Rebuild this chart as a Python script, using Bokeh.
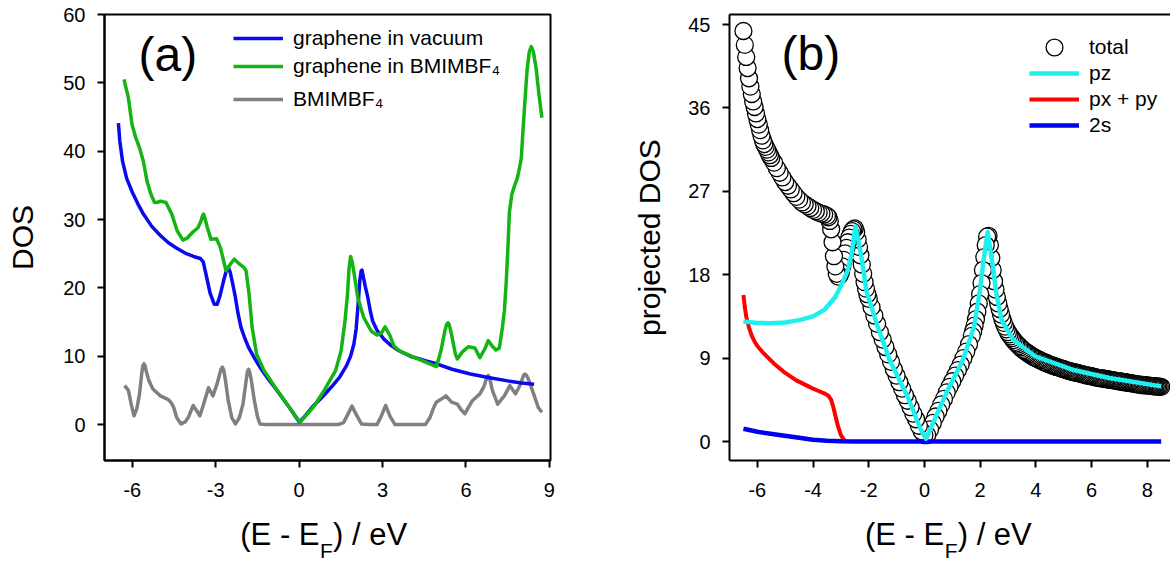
from bokeh.plotting import figure
from bokeh.models import (Range1d, FixedTicker, Legend, LegendItem, Label,
                          LinearAxis, ColumnDataSource)
from bokeh.layouts import row, column
from bokeh.embed import file_html
from bokeh.resources import INLINE
from bokeh.core.properties import value

FONT = "Liberation Sans"

# ---------------- data : panel (a) ----------------
a_vac_x = [-6.5, -6.45, -6.35, -6.2, -6.0, -5.8, -5.6, -5.3, -5.0, -4.7, -4.4, -4.1, -3.8,
           -3.55, -3.45, -3.35, -3.2, -3.05, -2.95, -2.85, -2.72, -2.6, -2.55, -2.48, -2.4,
           -2.3, -2.2, -2.09, -1.95, -1.82, -1.6, -1.41, -1.1, -0.87, -0.6, -0.33, -0.15,
           0.0, 0.2, 0.48, 0.8, 1.16, 1.45, 1.7, 1.85, 1.97, 2.05, 2.12, 2.18, 2.23, 2.26,
           2.3, 2.38, 2.47, 2.56, 2.64, 2.8, 3.05, 3.3, 3.59, 4.0, 4.5, 4.94, 5.5, 6.16,
           6.8, 7.5, 8.0, 8.45]
a_vac_y = [44.1, 41.5, 38.5, 36.0, 34.0, 32.3, 30.8, 29.0, 27.7, 26.6, 25.8, 25.1, 24.6,
           24.3, 23.8, 22.0, 19.2, 17.6, 17.6, 18.8, 21.0, 22.8, 23.0, 22.3, 20.8,
           18.8, 16.3, 14.2, 12.6, 11.3, 9.7, 8.4, 6.6, 5.4, 3.9, 2.4, 1.3,
           0.4, 1.2, 2.6, 3.9, 5.5, 6.9, 8.6, 10.0, 11.8, 14.0, 17.5, 21.0, 22.5, 22.6,
           21.8, 20.2, 18.6, 16.6, 15.2, 13.8, 12.5, 11.6, 10.8, 10.0, 9.4, 8.9, 8.1, 7.4,
           6.9, 6.4, 6.1, 5.9]

a_il_x = [-6.30, -6.14, -6.01, -5.87, -5.74, -5.60, -5.47, -5.33, -5.20, -5.10, -4.99, -4.79,
          -4.58, -4.38, -4.18, -4.02, -3.84, -3.64, -3.53, -3.48, -3.44, -3.40, -3.30, -3.17,
          -2.97, -2.83, -2.63, -2.47, -2.33, -2.15, -1.99, -1.91, -1.80, -1.69, -1.53, -1.26,
          -0.85, -0.44, 0.03, 0.50, 0.90, 1.31, 1.51, 1.65, 1.74, 1.79, 1.85, 1.91, 1.98,
          2.11, 2.32, 2.59, 2.80, 2.96, 3.09, 3.27, 3.41, 3.61, 4.16, 4.70, 4.94, 5.10, 5.24,
          5.30, 5.35, 5.40, 5.48, 5.62, 5.69, 5.86, 6.09, 6.32, 6.50, 6.68, 6.80, 6.94, 7.08,
          7.20, 7.31, 7.38, 7.45, 7.51, 7.56, 7.65, 7.75, 7.85, 7.92, 7.99, 8.05, 8.12, 8.20,
          8.28, 8.35, 8.42, 8.52, 8.62, 8.73]
a_il_y = [50.5, 47.8, 43.9, 41.9, 40.5, 38.5, 35.6, 33.7, 32.5, 32.5, 32.7, 32.5,
          30.8, 28.3, 27.0, 27.3, 28.1, 28.8, 29.8, 30.5, 30.8, 30.4, 28.8, 27.1,
          27.2, 25.9, 22.5, 23.5, 24.2, 23.5, 23.0, 22.5, 19.1, 14.2, 10.3, 7.9,
          5.4, 3.0, 0.35, 2.5, 5.0, 7.9, 10.8, 15.2, 19.1, 22.6, 24.6, 23.8, 22.0,
          18.6, 15.7, 13.7, 13.1, 13.4, 14.3, 13.0, 11.5, 10.8, 9.8, 8.9, 8.5, 10.8, 13.7,
          14.6, 14.9, 14.6, 13.2, 10.3, 9.6, 10.6, 11.4, 11.2, 9.8, 11.1, 12.3, 11.5, 10.9,
          11.2, 14.2, 16.6, 21.0, 26.0, 31.0, 33.7, 35.0, 36.1, 37.5, 39.0, 43.0, 47.3, 52.0,
          54.6, 55.3, 54.6, 52.2, 48.5, 44.9]

a_ion_x = [-6.28, -6.14, -6.04, -5.94, -5.84, -5.74, -5.66, -5.62, -5.58, -5.54, -5.5, -5.4,
           -5.26, -4.99, -4.72, -4.6, -4.51, -4.4, -4.25, -4.1, -3.98, -3.81, -3.68, -3.57,
           -3.45, -3.26, -3.1, -2.95, -2.81, -2.76, -2.71, -2.65, -2.55, -2.42, -2.29, -2.15,
           -2.02, -1.92, -1.86, -1.82, -1.78, -1.72, -1.61, -1.5, -1.41, -1.2, 1.4, 1.6,
           1.75, 1.9, 2.05, 2.24, 2.5, 2.8, 2.95, 3.11, 3.27, 3.45, 4.54, 4.7, 4.85, 4.94,
           5.1, 5.28, 5.48, 5.69, 5.82, 5.96, 6.1, 6.23, 6.5, 6.65, 6.76, 6.8, 6.85, 6.95,
           7.14, 7.38, 7.58, 7.78, 7.95, 8.07, 8.12, 8.18, 8.25, 8.39, 8.6, 8.73]
a_ion_y = [5.7, 5.0, 3.0, 1.3, 2.3, 4.5, 7.5, 8.6, 8.9, 8.6, 7.8, 6.4,
           5.2, 4.2, 3.7, 3.2, 2.5, 1.0, 0.1, 0.4, 1.1, 2.8, 2.0, 1.3,
           2.8, 5.4, 4.2, 6.0, 8.1, 8.4, 8.0, 6.5, 3.5, 1.0, 0.1, 1.0,
           3.0, 6.0, 7.8, 8.1, 7.7, 6.5, 3.5, 1.2, 0.1, 0.0, 0.0, 0.3,
           1.5, 2.7, 1.5, 0.1, 0.0, 0.0, 1.2, 2.8, 1.2, 0.0, 0.0, 1.0, 2.6, 3.3,
           3.7, 4.2, 3.3, 3.0, 2.2, 1.6, 2.6, 3.5, 4.5, 5.6, 7.0, 7.2, 6.8, 5.0,
           3.0, 4.2, 5.7, 4.5, 5.8, 7.2, 7.4, 7.2, 6.6, 5.0, 2.5, 1.8]

a_xticks = [-6, -3, 0, 3, 6, 9]
a_yticks = [0, 10, 20, 30, 40, 50, 60]
a_labels = ["graphene in vacuum", "graphene in BMIMBF\u2084", "BMIMBF\u2084"]

# ---------------- data : panel (b) ----------------
b_total_x = [-6.50, -6.45, -6.40, -6.35, -6.30, -6.25, -6.20, -6.15, -6.10, -6.05, -6.00,
             -5.95, -5.90, -5.85, -5.80, -5.75, -5.70, -5.65, -5.60, -5.55, -5.50,
             -5.4, -5.3, -5.2, -5.1, -5.0, -4.9, -4.8, -4.7, -4.6, -4.5, -4.4, -4.3, -4.2,
             -4.1, -4.0, -3.9, -3.8, -3.7, -3.6, -3.5,
             -3.45, -3.40, -3.35, -3.30, -3.25, -3.20, -3.15, -3.10, -3.05, -3.00, -2.95,
             -2.90, -2.85, -2.80, -2.75, -2.70, -2.65, -2.60, -2.55, -2.50, -2.45, -2.40,
             -2.35, -2.30, -2.25, -2.20, -2.15, -2.10, -2.05, -2.00,
             -1.9, -1.8, -1.7, -1.6, -1.5, -1.4, -1.3, -1.2, -1.1, -1.0, -0.9, -0.8, -0.7,
             -0.6, -0.5, -0.4, -0.3, -0.2, -0.1, 0.0, 0.1, 0.2, 0.3, 0.4, 0.5, 0.6, 0.7,
             0.8, 0.9, 1.0, 1.1, 1.2, 1.3, 1.4, 1.5, 1.6, 1.7,
             1.75, 1.80, 1.85, 1.90, 1.95, 2.00, 2.05, 2.10, 2.15, 2.20, 2.25, 2.30, 2.35,
             2.40, 2.45, 2.50, 2.55, 2.60, 2.65, 2.70, 2.75, 2.80, 2.85, 2.90,
             2.95, 3.00, 3.05, 3.10, 3.15, 3.20, 3.25, 3.30, 3.35, 3.40, 3.45, 3.50, 3.55,
             3.60, 3.65, 3.70, 3.75, 3.80, 3.85, 3.90, 3.95, 4.00, 4.05, 4.10, 4.15, 4.20,
             4.25, 4.30, 4.35, 4.40, 4.45, 4.50, 4.55, 4.60, 4.65, 4.70, 4.75, 4.80, 4.85,
             4.90, 4.95, 5.00, 5.05, 5.10, 5.15, 5.20, 5.25, 5.30, 5.35, 5.40, 5.45, 5.50,
             5.55, 5.60, 5.65, 5.70, 5.75, 5.80, 5.85, 5.90, 5.95, 6.00, 6.05, 6.10, 6.15,
             6.20, 6.25, 6.30, 6.35, 6.40, 6.45, 6.50, 6.55, 6.60, 6.65, 6.70, 6.75, 6.80,
             6.85, 6.90, 6.95, 7.00, 7.05, 7.10, 7.15, 7.20, 7.25, 7.30, 7.35, 7.40, 7.45,
             7.50, 7.55, 7.60, 7.65, 7.70, 7.75, 7.80, 7.85, 7.90, 7.95, 8.00, 8.05, 8.10,
             8.15, 8.20, 8.25, 8.30, 8.35, 8.40, 8.45, 8.50]
b_total_y = [44.3, 42.8, 41.5, 40.3, 39.2, 38.3, 37.5, 36.7, 36.1, 35.4, 34.8,
             34.2, 33.6, 33.0, 32.5, 32.1, 31.8, 31.5, 31.2, 30.9, 30.6,
             30.1, 29.5, 29.0, 28.5, 28.0, 27.6, 27.2, 26.8, 26.4, 26.1, 25.8, 25.6, 25.4,
             25.2, 25.0, 24.85, 24.7, 24.6, 24.5, 24.35,
             24.2, 23.8, 22.9, 21.5, 20.0, 18.9, 18.1, 17.8, 17.9, 18.3, 18.9,
             19.6, 20.3, 20.9, 21.5, 22.0, 22.4, 22.7, 22.9, 23.0, 22.6, 21.8,
             21.0, 20.1, 19.1, 18.1, 17.2, 16.5, 15.9, 15.4,
             14.5, 13.6, 12.7, 11.8, 11.0, 10.2, 9.4, 8.6, 7.8, 7.1, 6.4, 5.7, 5.0,
             4.4, 3.7, 3.0, 2.4, 1.7, 1.1, 0.7, 0.7, 1.3, 2.0, 2.7, 3.3, 4.0, 4.6,
             5.3, 5.9, 6.5, 7.1, 7.7, 8.3, 9.0, 9.7, 10.5, 11.4,
             11.9, 12.5, 13.2, 14.0, 14.9, 15.9, 17.1, 18.5, 19.9, 21.2, 22.1, 22.2, 21.2,
             19.8, 18.5, 17.3, 16.4, 15.6, 14.9, 14.3, 13.7, 13.2, 12.8, 12.4,
             12.1, 11.8, 11.55, 11.35, 11.15, 10.95, 10.75, 10.6, 10.45, 10.3, 10.15, 10.0, 9.87,
             9.75, 9.65, 9.55, 9.45, 9.35, 9.25, 9.15, 9.07, 9.0, 8.92, 8.85, 8.77, 8.7,
             8.62, 8.55, 8.5, 8.45, 8.37, 8.3, 8.25, 8.2, 8.15, 8.1, 8.05, 8.0, 7.95,
             7.9, 7.85, 7.8, 7.75, 7.7, 7.65, 7.6, 7.57, 7.55, 7.5, 7.45, 7.42, 7.4,
             7.35, 7.3, 7.27, 7.25, 7.2, 7.15, 7.12, 7.1, 7.07, 7.05, 7.0, 6.95, 6.92,
             6.9, 6.87, 6.85, 6.82, 6.8, 6.77, 6.75, 6.72, 6.7, 6.67, 6.65, 6.62, 6.6,
             6.57, 6.55, 6.52, 6.5, 6.47, 6.45, 6.42, 6.4, 6.37, 6.35, 6.32, 6.3, 6.27,
             6.25, 6.22, 6.2, 6.17, 6.15, 6.12, 6.1, 6.1, 6.08, 6.06, 6.05, 6.02, 6.0,
             6.0, 5.98, 5.96, 5.95, 5.94, 5.93, 5.92, 5.9]

b_pz_x = [-6.5, -6.0, -5.5, -5.0, -4.5, -4.0, -3.6, -3.2, -2.95, -2.75, -2.61, -2.48,
          -2.38, -2.27, -2.08, -1.68, -1.25, -0.6, -0.15, 0.05, 0.25, 0.78, 1.38, 1.78,
          1.98, 2.12, 2.27, 2.45, 2.58, 2.77, 3.18, 3.97, 5.31, 6.64, 8.5]
b_pz_y = [12.95, 12.8, 12.75, 12.85, 13.1, 13.5, 14.2, 15.6, 17.1, 18.5, 20.3, 23.2,
          21.8, 20.0, 16.2, 12.4, 8.8, 4.8, 1.4, 0.3, 1.6, 5.2, 8.8, 12.4,
          16.0, 19.5, 22.6, 19.0, 16.0, 13.1, 11.0, 9.2, 7.75, 6.86, 5.95]

b_pxpy_x = [-6.5, -6.45, -6.4, -6.3, -6.2, -6.1, -6.0, -5.8, -5.6, -5.4, -5.2, -5.0, -4.8,
            -4.6, -4.4, -4.2, -4.0, -3.8, -3.6, -3.45, -3.35, -3.28, -3.2, -3.1, -3.0,
            -2.9, -2.8]
b_pxpy_y = [15.8, 14.5, 13.5, 12.3, 11.4, 10.8, 10.3, 9.6, 9.0, 8.4, 7.9, 7.4, 7.0,
            6.6, 6.3, 6.0, 5.7, 5.45, 5.2, 4.95, 4.5, 3.8, 2.8, 1.6, 0.7,
            0.2, 0.0]

b_2s_x = [-6.5, -6.0, -5.34, -4.5, -4.01, -3.5, -3.0, -2.5, 0.0, 4.0, 8.5]
b_2s_y = [1.37, 1.05, 0.75, 0.4, 0.2, 0.08, 0.02, 0.0, 0.0, 0.0, 0.0]

b_xticks = [-6, -4, -2, 0, 2, 4, 6, 8]
b_yticks = [0, 9, 18, 27, 36, 45]
b_labels = ["total", "pz", "px + py", "2s"]

# ---------------- layout constants (page pixels, origin top-left) ----------------
FRAME_H = 447
A_LEFT, A_FW, A_RB = 104, 446, 20
A_W = A_LEFT + A_FW + A_RB            # 570
B_LB = 729 - A_W                       # 159
B_FW = 1170 - 729                      # 441
MAIN_H = 515
STRIP_H = 50
A_XR = (-7, 9.04)
A_YR = (-5.25, 60)
B_XR = (-7, -7 + B_FW / 27.85)
B_YR = (-2.05, 46.08)


def to_data(xr, yr, fw, fh, px, py):
    """px from frame left, py from frame top (downwards)."""
    x = xr[0] + px * (xr[1] - xr[0]) / fw
    y = yr[1] - py * (yr[1] - yr[0]) / fh
    return x, y


def style_axis(ax, ticks, standoff):
    ax.ticker = FixedTicker(ticks=ticks)
    ax.major_label_overrides = {t: str(t) for t in ticks}
    ax.axis_line_width = 2
    ax.axis_line_color = "black"
    ax.major_tick_line_width = 2
    ax.major_tick_line_color = "black"
    ax.major_tick_out = 7
    ax.major_tick_in = 0
    ax.minor_tick_line_color = None
    ax.major_label_text_font = FONT
    ax.major_label_text_font_size = "20px"
    ax.major_label_text_color = "black"
    ax.major_label_standoff = standoff


def one_legend(item, vx, vy, gh):
    return Legend(items=[item], location=(vx, vy), padding=0, margin=0, spacing=0,
                  glyph_width=50, glyph_height=gh, label_height=gh, label_standoff=10,
                  label_text_font=FONT, label_text_font_size="21px",
                  label_text_color="black", label_text_baseline="middle",
                  background_fill_alpha=0, border_line_color=None)


# ---------------- panel (a) ----------------
pa = figure(width=A_W, height=MAIN_H,
            x_range=Range1d(*A_XR), y_range=Range1d(*A_YR),
            min_border_left=A_LEFT, min_border_right=A_RB, min_border_top=13,
            min_border_bottom=MAIN_H - 13 - FRAME_H,
            output_backend="svg", toolbar_location=None)
pa.grid.visible = False
pa.outline_line_color = "black"
pa.outline_line_width = 2
pa.background_fill_color = "white"
pa.border_fill_color = "white"
style_axis(pa.xaxis[0], a_xticks, 15)
style_axis(pa.yaxis[0], a_yticks, 12)
pa.yaxis.axis_label = "DOS"
pa.yaxis.axis_label_text_font = FONT
pa.yaxis.axis_label_text_font_size = "30px"
pa.yaxis.axis_label_text_font_style = "normal"
pa.yaxis.axis_label_text_color = "black"
pa.yaxis.axis_label_standoff = 21

r_ion = pa.line(a_ion_x, a_ion_y, line_color="#808080", line_width=3.5, line_join="round")
r_vac = pa.line(a_vac_x, a_vac_y, line_color="#0A0AF0", line_width=3.5, line_join="round")
r_il = pa.line(a_il_x, a_il_y, line_color="#14B414", line_width=3.5, line_join="round")

# legend rows: centre y in page px -> bottom-left corner in frame px
for rend, lab, cy in [(r_vac, a_labels[0], 38.3), (r_il, a_labels[1], 65.7),
                      (r_ion, a_labels[2], 99.3)]:
    pa.add_layout(one_legend(LegendItem(label=value(lab), renderers=[rend]),
                             233 - A_LEFT, 460 - (cy + 16), 32))

lx, ly = to_data(A_XR, A_YR, A_FW, FRAME_H, 34, 40.4)
pa.add_layout(Label(x=lx, y=ly, text="(a)", text_font=FONT, text_font_size="48px",
                    text_baseline="middle", text_color="black"))

# ---------------- panel (b) ----------------
pb = figure(width=B_LB + B_FW, height=MAIN_H,
            x_range=Range1d(*B_XR), y_range=Range1d(*B_YR),
            min_border_left=B_LB, min_border_right=0, min_border_top=14,
            min_border_bottom=MAIN_H - 14 - FRAME_H,
            output_backend="svg", toolbar_location=None)
pb.grid.visible = False
pb.outline_line_color = None
pb.background_fill_color = "white"
pb.border_fill_color = "white"
style_axis(pb.xaxis[0], b_xticks, 15)
style_axis(pb.yaxis[0], b_yticks, 12)
pb.yaxis.axis_label = "projected DOS"
pb.yaxis.axis_label_text_font = FONT
pb.yaxis.axis_label_text_font_size = "30px"
pb.yaxis.axis_label_text_font_style = "normal"
pb.yaxis.axis_label_text_color = "black"
pb.yaxis.axis_label_standoff = 19

top_ax = LinearAxis(ticker=FixedTicker(ticks=[]), axis_line_width=2, axis_line_color="black",
                    major_tick_line_color=None, minor_tick_line_color=None,
                    major_label_text_font_size="0px", major_label_standoff=0)
pb.add_layout(top_ax, "above")

tot_src = ColumnDataSource(data=dict(x=b_total_x[::-1], y=b_total_y[::-1]))
r_tot = pb.scatter("x", "y", source=tot_src, marker="circle", size=17,
                   fill_color="white", line_color="black", line_width=1.3)
r_pxpy = pb.line(b_pxpy_x, b_pxpy_y, line_color="#FF0000", line_width=4, line_join="round")
r_2s = pb.line(b_2s_x, b_2s_y, line_color="#0000F0", line_width=4.5, line_join="round")
r_pz = pb.line(b_pz_x, b_pz_y, line_color="#1EF0F0", line_width=4.5, line_join="round")

pb.add_layout(one_legend(LegendItem(label=value(b_labels[0]), renderers=[r_tot]),
                         1029 - 729, 461 - (48 + 21), 42))
for rend, lab, cy in [(r_pz, b_labels[1], 74), (r_pxpy, b_labels[2], 100),
                      (r_2s, b_labels[3], 126)]:
    pb.add_layout(one_legend(LegendItem(label=value(lab), renderers=[rend]),
                             1029 - 729, 461 - (cy + 16), 32))

lx, ly = to_data(B_XR, B_YR, B_FW, FRAME_H, 52, 39.4)
pb.add_layout(Label(x=lx, y=ly, text="(b)", text_font=FONT, text_font_size="48px",
                    text_baseline="middle", text_color="black"))

# ---------------- x-axis titles with subscript (strip below both panels) ----------------
strip = figure(width=1170, height=STRIP_H, x_range=Range1d(0, 1170),
               y_range=Range1d(STRIP_H, 0), x_axis_type=None, y_axis_type=None,
               min_border=0, outline_line_color=None,
               output_backend="svg", toolbar_location=None)
strip.grid.visible = False
strip.background_fill_color = "white"
strip.border_fill_color = "white"

main_mid = 545 - 0.3465 * 31 - MAIN_H
sub_mid = 557 - 0.3465 * 21 - MAIN_H
for xr_ in (319.0, 943.7):
    strip.add_layout(Label(x=xr_, y=main_mid, text="(E - E", text_font=FONT,
                           text_font_size="31px", text_align="right",
                           text_baseline="middle", text_color="black"))
    strip.add_layout(Label(x=xr_ + 0.5, y=sub_mid, text="F", text_font=FONT,
                           text_font_size="21px", text_align="left",
                           text_baseline="middle", text_color="black"))
    strip.add_layout(Label(x=xr_ + 13.5, y=main_mid, text=") / eV", text_font=FONT,
                           text_font_size="31px", text_align="left",
                           text_baseline="middle", text_color="black"))

layout = column(row(pa, pb), strip)
open("out.html", "w").write(file_html(layout, INLINE))
